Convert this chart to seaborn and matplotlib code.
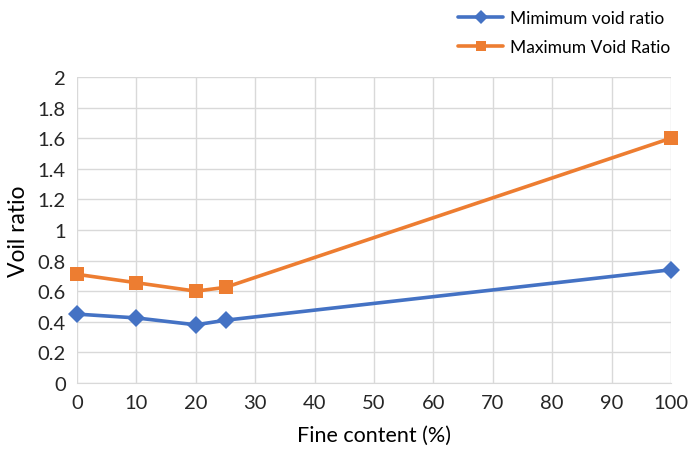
import matplotlib
matplotlib.use("Agg")
import matplotlib.pyplot as plt
import seaborn as sns
import pandas as pd

fine_content = [0, 10, 20, 25, 100]
min_void = [0.45, 0.425, 0.38, 0.41, 0.74]
max_void = [0.71, 0.655, 0.60, 0.625, 1.60]

sns.set_style("whitegrid")
plt.rcParams["font.family"] = ["Lato", "DejaVu Sans"]

df = pd.DataFrame({
    "fine": fine_content * 2,
    "ratio": min_void + max_void,
    "series": ["Mimimum void ratio"] * len(fine_content) + ["Maximum Void Ratio"] * len(fine_content),
})

fig = plt.figure(figsize=(6.89, 4.56), dpi=100)
ax = fig.add_axes([0.1118, 0.158, 0.8621, 0.671])

palette = {"Mimimum void ratio": "#4472C4", "Maximum Void Ratio": "#ED7D31"}
markers = {"Mimimum void ratio": "D", "Maximum Void Ratio": "s"}
sizes = {"Mimimum void ratio": 9, "Maximum Void Ratio": 10}

for name in ["Mimimum void ratio", "Maximum Void Ratio"]:
    sub = df[df["series"] == name]
    sns.lineplot(data=sub, x="fine", y="ratio", ax=ax, color=palette[name],
                 marker=markers[name], markersize=sizes[name], markeredgewidth=0,
                 linewidth=2.6, label=name, zorder=3, clip_on=False)

ax.set_xlim(0, 100)
ax.set_ylim(0, 2)
ax.set_xticks(range(0, 101, 10))
ax.set_yticks([0, 0.2, 0.4, 0.6, 0.8, 1.0, 1.2, 1.4, 1.6, 1.8, 2.0])
ax.set_yticklabels(["0", "0.2", "0.4", "0.6", "0.8", "1", "1.2", "1.4", "1.6", "1.8", "2"])
ax.tick_params(axis="both", labelsize=14.5, colors="#262626", length=0, pad=8)
ax.grid(True, color="#D9D9D9", linewidth=1)
for s in ax.spines.values():
    s.set_visible(False)
ax.spines["bottom"].set_visible(True)
ax.spines["bottom"].set_color("#D9D9D9")

ax.set_xlabel("Fine content (%)", fontsize=15.5, color="#000000", labelpad=10)
ax.set_ylabel("Voil ratio", fontsize=16.5, color="#000000", labelpad=6)

leg = ax.legend(loc="upper left", bbox_to_anchor=(0.642, 1.01), bbox_transform=fig.transFigure,
                frameon=False, fontsize=12.5, handlelength=2.6, labelspacing=0.75,
                handletextpad=0.4)
for h in leg.legend_handles:
    h.set_markersize(7)
for t in leg.get_texts():
    t.set_color("#000000")

fig.savefig("out.png", dpi=100)
